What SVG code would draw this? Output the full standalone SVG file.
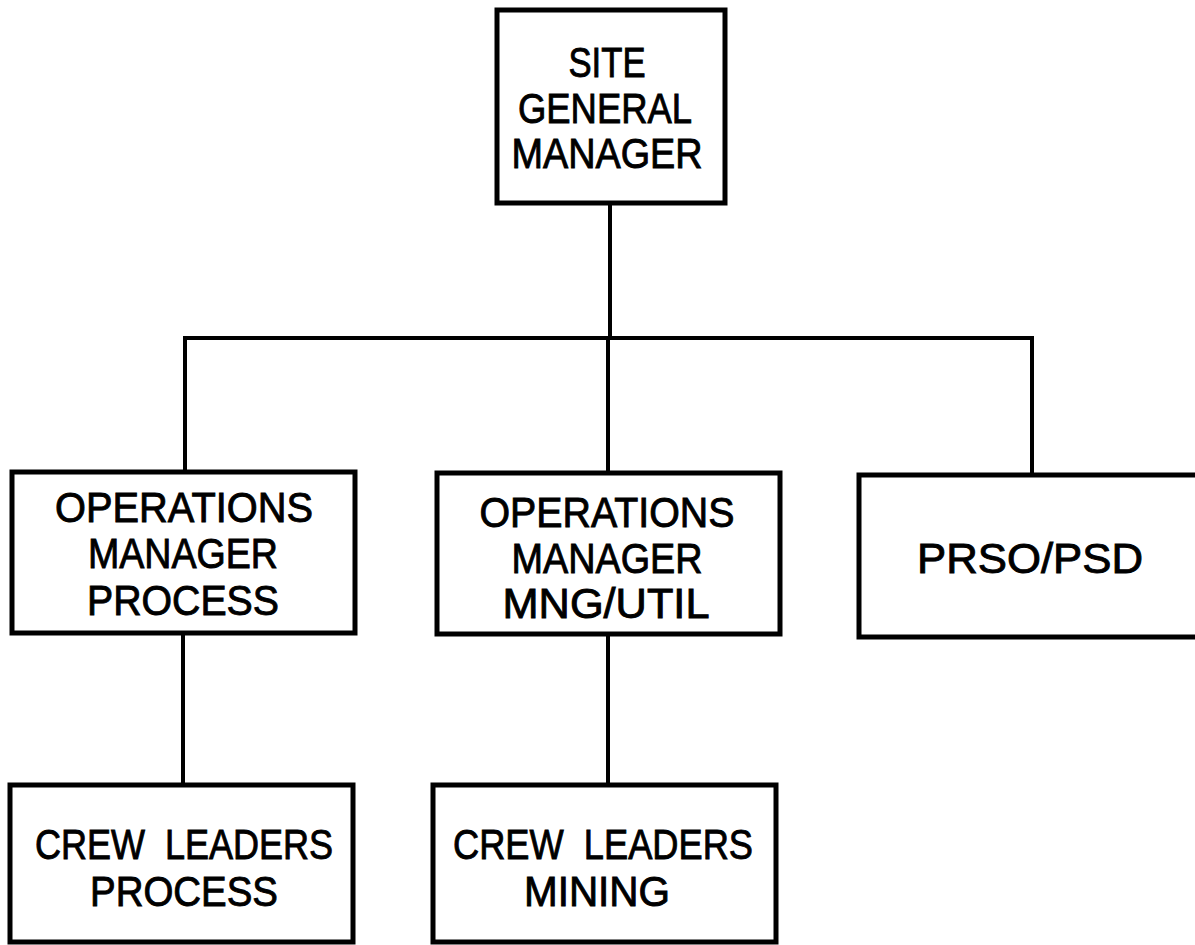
<svg xmlns="http://www.w3.org/2000/svg" width="1195" height="945" viewBox="0 0 1195 945">
<style>
.box{fill:#fff;stroke:#000;stroke-width:5}
.ln{fill:none;stroke:#000;stroke-width:4}
text{font-family:"Liberation Sans",Arial,sans-serif;font-size:42px;fill:#000;stroke:#000;stroke-width:0.9;text-anchor:middle}
</style>
<rect width="1195" height="945" fill="#fff"/>
<g id="connectors">
<path class="ln" d="M610 203V338"/>
<path class="ln" d="M185 472V338H1032V475"/>
<path class="ln" d="M608 338V473"/>
<path class="ln" d="M183 633V785"/>
<path class="ln" d="M608 634V785"/>
</g>
<g id="site-gm">
<rect class="box" x="497" y="10" width="228" height="193"/>
<text x="607" y="77" textLength="77" lengthAdjust="spacingAndGlyphs">SITE</text>
<text x="605" y="123" textLength="174" lengthAdjust="spacingAndGlyphs">GENERAL</text>
<text x="607" y="168" textLength="191" lengthAdjust="spacingAndGlyphs">MANAGER</text>
</g>
<g id="ops-process">
<rect class="box" x="12" y="472" width="343" height="161"/>
<text x="184" y="522" textLength="258" lengthAdjust="spacingAndGlyphs">OPERATIONS</text>
<text x="183" y="568" textLength="190" lengthAdjust="spacingAndGlyphs">MANAGER</text>
<text x="183" y="615" textLength="192" lengthAdjust="spacingAndGlyphs">PROCESS</text>
</g>
<g id="ops-mng">
<rect class="box" x="437" y="473" width="343" height="161"/>
<text x="607" y="527" textLength="255" lengthAdjust="spacingAndGlyphs">OPERATIONS</text>
<text x="607" y="573" textLength="191" lengthAdjust="spacingAndGlyphs">MANAGER</text>
<text x="606" y="618" textLength="207" lengthAdjust="spacingAndGlyphs">MNG/UTIL</text>
</g>
<g id="prso">
<rect class="box" x="859" y="475" width="345" height="162"/>
<text x="1030" y="573" textLength="226" lengthAdjust="spacingAndGlyphs">PRSO/PSD</text>
</g>
<g id="crew-process">
<rect class="box" x="10" y="785" width="343" height="157"/>
<text x="184" y="859" textLength="298" lengthAdjust="spacingAndGlyphs" xml:space="preserve">CREW  LEADERS</text>
<text x="184" y="906" textLength="188" lengthAdjust="spacingAndGlyphs">PROCESS</text>
</g>
<g id="crew-mining">
<rect class="box" x="433" y="785" width="343" height="157"/>
<text x="603" y="859" textLength="300" lengthAdjust="spacingAndGlyphs" xml:space="preserve">CREW  LEADERS</text>
<text x="597" y="906" textLength="146" lengthAdjust="spacingAndGlyphs">MINING</text>
</g>
</svg>
